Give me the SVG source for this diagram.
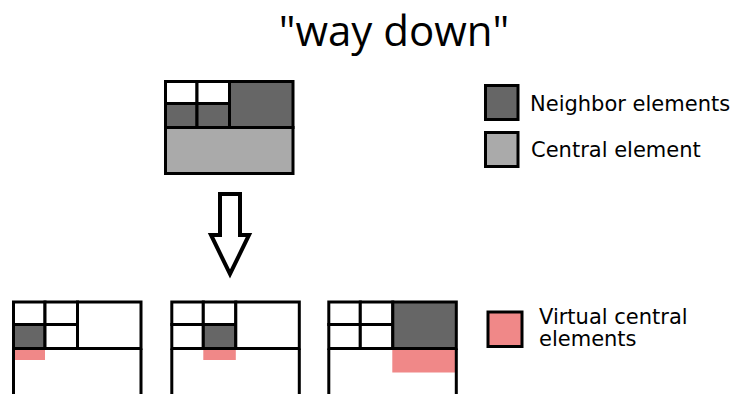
<svg xmlns="http://www.w3.org/2000/svg" width="732" height="394" viewBox="0 0 732 394">
<style>
.c{stroke:#000;stroke-width:3}
.w{fill:#fff}
.d{fill:#666}
.l{fill:#aaa}
.p{fill:#f08888}
.t{font-family:"DejaVu Sans",Verdana,sans-serif;font-size:21px;fill:#000}
.title{font-family:"Open Sans","Liberation Sans",sans-serif;font-size:42px;fill:#000}
</style>
<rect width="732" height="394" fill="#fff"/>
<text class="title" x="394" y="46" text-anchor="middle">"way down"</text>

<g id="top-grid">
<rect class="c w" x="165.5" y="81.5" width="31.5" height="22"/>
<rect class="c w" x="197" y="81.5" width="32.5" height="22"/>
<rect class="c d" x="165.5" y="103.5" width="31.5" height="24"/>
<rect class="c d" x="197" y="103.5" width="32.5" height="24"/>
<rect class="c d" x="229.5" y="81.5" width="63.5" height="46"/>
<rect class="c l" x="165.5" y="127.5" width="127.5" height="46"/>
</g>

<g id="legend-neighbor">
<rect class="c d" x="485.5" y="85.5" width="32.5" height="34"/>
<text class="t" x="530" y="111">Neighbor elements</text>
</g>
<g id="legend-central">
<rect class="c l" x="485.5" y="132.5" width="32.5" height="34"/>
<text class="t" x="531" y="157">Central element</text>
</g>

<g id="connectors">
<polygon points="220,194 240,194 240,235 249,235 230,274 211,235 220,235" fill="#fff" stroke="#000" stroke-width="4" stroke-linejoin="miter"/>
</g>

<g id="case1">
<rect class="p" x="13.5" y="348.5" width="31.5" height="11.5"/>
<rect class="c w" x="13.5" y="302" width="31.5" height="22.5"/>
<rect class="c w" x="45" y="302" width="32.5" height="22.5"/>
<rect class="c d" x="13.5" y="324.5" width="31.5" height="24"/>
<rect class="c w" x="45" y="324.5" width="32.5" height="24"/>
<rect class="c w" x="77.5" y="302" width="63.5" height="46.5"/>
<path class="c" d="M13.5 348.5V400M141 348.5V400M13.5 348.5H141" fill="none"/>
</g>

<g id="case2">
<rect class="p" x="203.3" y="348.5" width="32.5" height="11.5"/>
<rect class="c w" x="171.8" y="302" width="31.5" height="22.5"/>
<rect class="c w" x="203.3" y="302" width="32.5" height="22.5"/>
<rect class="c w" x="171.8" y="324.5" width="31.5" height="24"/>
<rect class="c d" x="203.3" y="324.5" width="32.5" height="24"/>
<rect class="c w" x="235.8" y="302" width="63.5" height="46.5"/>
<path class="c" d="M171.8 348.5V400M299.3 348.5V400M171.8 348.5H299.3" fill="none"/>
</g>

<g id="case3">
<rect class="p" x="392.3" y="348.5" width="63" height="24"/>
<rect class="c w" x="328.8" y="302" width="31.5" height="22.5"/>
<rect class="c w" x="360.3" y="302" width="32.5" height="22.5"/>
<rect class="c w" x="328.8" y="324.5" width="31.5" height="24"/>
<rect class="c w" x="360.3" y="324.5" width="32.5" height="24"/>
<rect class="c d" x="392.8" y="302" width="63.5" height="46.5"/>
<path class="c" d="M328.8 348.5V400M456.3 348.5V400M328.8 348.5H456.3" fill="none"/>
</g>

<g id="legend-virtual">
<rect class="c p" x="488" y="312" width="34" height="34.5"/>
<text class="t" x="539" y="323.5">Virtual central</text>
<text class="t" x="539" y="346">elements</text>
</g>
</svg>
